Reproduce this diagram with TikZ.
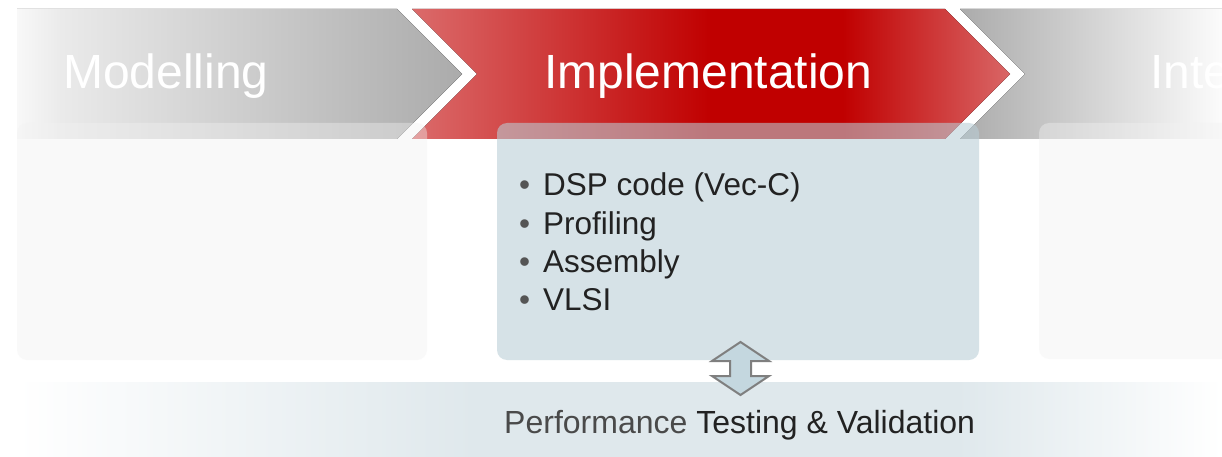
\documentclass[tikz,border=0pt]{standalone}
\usepackage{fontspec}
\setmainfont{Liberation Sans}
\usetikzlibrary{shadings}

% palette
\definecolor{greyLight}{HTML}{F8F8F8}
\definecolor{greySoft}{HTML}{EAEAEA}
\definecolor{greyDark}{HTML}{ABABAB}
\definecolor{redSoft}{HTML}{DB6B6B}
\definecolor{redDeep}{HTML}{C00000}
\definecolor{redSoftR}{HTML}{D96666}
\definecolor{bandBlue}{HTML}{DFE8EC}
\definecolor{panelBlue}{RGB}{186,206,214}
\definecolor{panelGrey}{HTML}{F2F2F2}
\definecolor{arrowFill}{RGB}{196,215,223}
\definecolor{arrowLine}{HTML}{7F7F7F}
\definecolor{textDark}{HTML}{222222}
\definecolor{textMid}{HTML}{4A4A4A}
\definecolor{bulletGrey}{HTML}{555555}

% horizontal colour ramps (path width maps onto 25bp..75bp)
\pgfdeclarehorizontalshading{greyLeft}{100bp}{color(0bp)=(greyLight); color(25bp)=(greyLight); color(30bp)=(greySoft); color(75bp)=(greyDark); color(100bp)=(greyDark)}
\pgfdeclarehorizontalshading{redMid}{100bp}{color(0bp)=(redSoft); color(25bp)=(redSoft); color(50bp)=(redDeep); color(61bp)=(redDeep); color(75bp)=(redSoftR); color(100bp)=(redSoftR)}
\pgfdeclarehorizontalshading{greyRight}{100bp}{color(0bp)=(greyDark); color(25bp)=(greyDark); color(75bp)=(greyLight!50!white); color(100bp)=(white)}
\pgfdeclarehorizontalshading{baseBand}{100bp}{color(0bp)=(white); color(25bp)=(white); color(44bp)=(bandBlue); color(64bp)=(bandBlue); color(75bp)=(white); color(100bp)=(white)}

\tikzset{
  phase/.style={draw=none},
  header/.style={anchor=base west, text=white, inner sep=0pt, font=\fontsize{48}{56}\selectfont},
  panel/.style={draw=none, rounded corners=10pt, inner sep=0pt},
  item/.style={anchor=base west, inner sep=0pt, text=textDark, font=\fontsize{31.5}{38}\selectfont},
  footer/.style={anchor=base west, inner sep=0pt, font=\fontsize{32}{38}\selectfont},
}

\begin{document}
\begin{tikzpicture}[x=1pt, y=-1pt]
  \clip (0,0) rectangle (1222,457);
  \fill[white] (0,0) rectangle (1222,457);

  % process chevrons
  \fill[phase, shading=greyLeft] (17,9) -- (397,9) -- (462,74) -- (397,139) -- (17,139) -- cycle;
  \fill[phase, shading=redMid] (412,9) -- (945,9) -- (1010,74) -- (945,139) -- (412,139) -- (477,74) -- cycle;
  \fill[phase, shading=greyRight] (960,9) -- (1222,9) -- (1222,139) -- (960,139) -- (1025,74) -- cycle;

  \node[header] (mod)  at (63,89)   {Modelling};
  \node[header] (impl) at (544,89)  {Implementation};
  \node[header] (inte) at (1150,89) {Integration};

  % content panels
  \node[panel, fill=panelGrey, fill opacity=0.4, minimum width=410pt, minimum height=237pt] (pleft) at (222,241.5) {};
  \node[panel, fill=panelBlue, fill opacity=0.58, minimum width=482pt, minimum height=237pt] (pmid) at (738,241.5) {};
  \node[panel, fill=panelGrey, fill opacity=0.4, minimum width=210pt, minimum height=236pt] (pright) at (1144,241) {};

  % task list
  \node[item] (t1) at (519,196) {\makebox[24pt][l]{\textcolor{bulletGrey}{•}}DSP code (Vec-C)};
  \node[item] (t2) at (519,234) {\makebox[24pt][l]{\textcolor{bulletGrey}{•}}Profiling};
  \node[item] (t3) at (519,272) {\makebox[24pt][l]{\textcolor{bulletGrey}{•}}Assembly};
  \node[item] (t4) at (519,310) {\makebox[24pt][l]{\textcolor{bulletGrey}{•}}VLSI};

  % testing band
  \fill[shading=baseBand] (17,382) rectangle (1222,457);
  \node[footer] (test) at (504,433) {\textcolor{textMid}{Performance} \textcolor{textDark}{Testing \& Validation}};

  % two-way arrow between panel and band
  \coordinate (up)   at (740.5,342);
  \coordinate (down) at (740.5,395);
  \filldraw[fill=arrowFill, draw=arrowLine, line width=2pt, line join=miter]
    (up) -- (769,361) -- (751,361) -- (751,376) -- (769,376) -- (down)
    -- (712,376) -- (730,376) -- (730,361) -- (712,361) -- cycle;
\end{tikzpicture}
\end{document}
